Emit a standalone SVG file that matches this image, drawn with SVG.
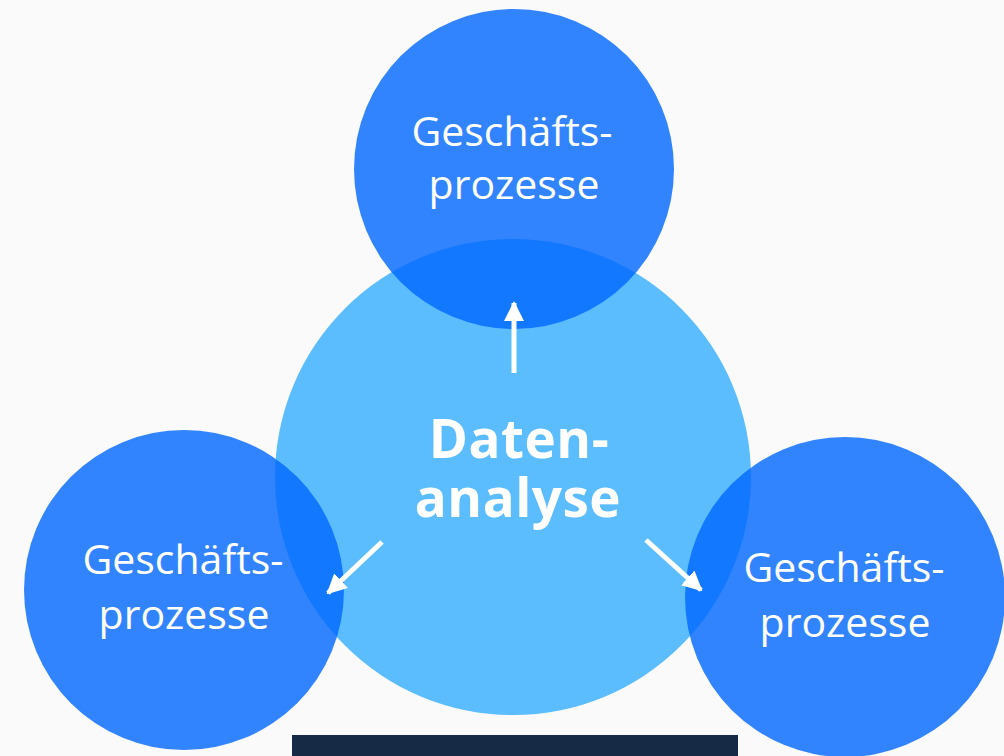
<svg xmlns="http://www.w3.org/2000/svg" width="1004" height="756" viewBox="0 0 1004 756">
<style>
.outer{fill:#0066ff;fill-opacity:0.8}
.lbl{font-family:"Open Sans","Noto Sans",sans-serif;font-size:41px;fill:#ffffff;text-anchor:middle}
.main{font-family:"Open Sans","Noto Sans",sans-serif;font-size:53px;font-weight:bold;fill:#ffffff;text-anchor:middle;letter-spacing:0.5px}
.arr{stroke:#ffffff;stroke-width:5;fill:none}
</style>
<defs>
<marker id="ah" viewBox="0 0 10 10" refX="9" refY="5" markerWidth="4" markerHeight="4" orient="auto" markerUnits="strokeWidth">
<path d="M0,0 L10,5 L0,10 Z" fill="#ffffff"/>
</marker>
</defs>
<rect width="1004" height="756" fill="#fafafa"/>
<g id="center">
<circle cx="513" cy="477" r="238" fill="#5bbdfd"/>
</g>
<g id="top">
<circle class="outer" cx="514" cy="169" r="160"/>
<text class="lbl" x="512" y="146">Geschäfts-</text>
<text class="lbl" x="514" y="199">prozesse</text>
</g>
<g id="left">
<circle class="outer" cx="184" cy="590" r="160"/>
<text class="lbl" x="183" y="574">Geschäfts-</text>
<text class="lbl" x="184" y="629">prozesse</text>
</g>
<g id="right">
<circle class="outer" cx="845" cy="597" r="160"/>
<text class="lbl" x="844" y="582">Geschäfts-</text>
<text class="lbl" x="845" y="637">prozesse</text>
</g>
<g id="center-label">
<text class="main" x="519" y="458">Daten-</text>
<text class="main" x="518" y="517">analyse</text>
</g>
<g id="connectors">
<line class="arr" x1="514" y1="373" x2="514" y2="303" marker-end="url(#ah)"/>
<line class="arr" x1="382" y1="542" x2="328" y2="593" marker-end="url(#ah)"/>
<line class="arr" x1="646" y1="540" x2="701" y2="590" marker-end="url(#ah)"/>
</g>
<rect x="292" y="735" width="446" height="21" fill="#172a45"/>
</svg>
